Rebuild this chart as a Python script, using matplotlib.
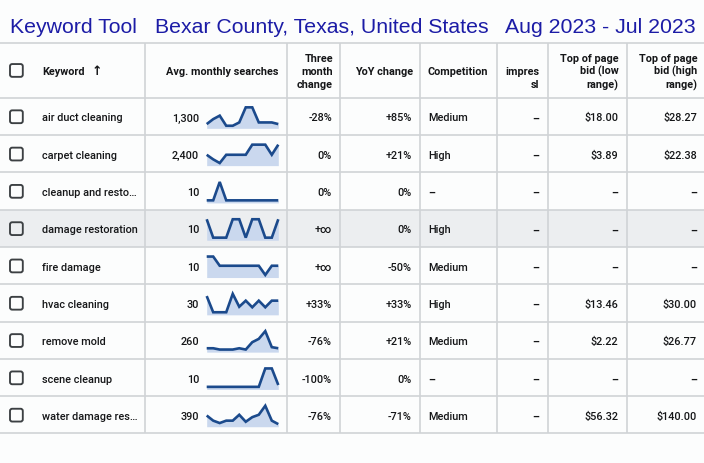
import matplotlib
matplotlib.use("Agg")
import matplotlib.pyplot as plt
from matplotlib.patches import FancyBboxPatch, Rectangle

# ---------------- data ----------------
title_parts = ["Keyword Tool", "Bexar County, Texas, United States", "Aug 2023 - Jul 2023"]
headers = ["Keyword", "Avg. monthly searches", "Three\nmonth\nchange", "YoY change",
           "Competition", "impres\nsl", "Top of page\nbid (low\nrange)", "Top of page\nbid (high\nrange)"]
keywords = ["air duct cleaning", "carpet cleaning", "cleanup and resto\u2026", "damage restoration",
            "fire damage", "hvac cleaning", "remove mold", "scene cleanup", "water damage res\u2026"]
avg_searches = ["1,300", "2,400", "10", "10", "10", "30", "260", "10", "390"]
three_month = ["-28%", "0%", "0%", "+\u221e", "+\u221e", "+33%", "-76%", "-100%", "-76%"]
yoy_change = ["+85%", "+21%", "0%", "0%", "-50%", "+33%", "+21%", "0%", "-71%"]
competition = ["Medium", "High", "\u2013", "High", "Medium", "High", "Medium", "\u2013", "Medium"]
impr_share = ["\u2013"] * 9
bid_low = ["$18.00", "$3.89", "\u2013", "\u2013", "\u2013", "$13.46", "$2.22", "\u2013", "$56.32"]
bid_high = ["$28.27", "$22.38", "\u2013", "\u2013", "\u2013", "$30.00", "$26.77", "\u2013", "$140.00"]

# monthly trend (relative, 12 months)
trend_air_duct = [0.09, 0.36, 0.55, 0.0, 0.0, 0.18, 1.0, 1.0, 0.18, 0.18, 0.18, 0.09]
trend_carpet = [0.45, 0.2, 0.0, 0.45, 0.45, 0.45, 0.45, 1.0, 1.0, 1.0, 0.45, 1.0]
trend_cleanup = [0.0, 0.0, 1.0, 0.0, 0.0, 0.0, 0.0, 0.0, 0.0, 0.0, 0.0, 0.0]
trend_damage = [1.0, 0.0, 0.0, 0.0, 1.0, 1.0, 0.0, 1.0, 1.0, 0.0, 0.0, 1.0]
trend_fire = [1.0, 1.0, 0.5, 0.5, 0.5, 0.5, 0.5, 0.5, 0.5, 0.0, 0.5, 0.5]
trend_hvac = [0.88, 0.0, 0.0, 0.0, 1.0, 0.3, 0.63, 0.27, 0.63, 0.27, 0.63, 0.63]
trend_mold = [0.07, 0.07, 0.0, 0.0, 0.0, 0.07, 0.0, 0.4, 0.58, 1.0, 0.13, 0.07]
trend_scene = [0.0, 0.0, 0.0, 0.0, 0.0, 0.0, 0.0, 0.0, 0.0, 1.0, 1.0, 0.1]
trend_water = [0.47, 0.19, 0.06, 0.19, 0.19, 0.51, 0.13, 0.38, 0.51, 1.0, 0.19, 0.0]
trends = [trend_air_duct, trend_carpet, trend_cleanup, trend_damage, trend_fire,
          trend_hvac, trend_mold, trend_scene, trend_water]

# ---------------- layout ----------------
W, H = 704, 464
BG = "#fcfdfd"
TXT = "#151618"
GRID = "#d0d3d6"
TITLE_C = "#1c1ca6"
FONT = ["Roboto", "DejaVu Sans"]

fig = plt.figure(figsize=(W / 100, H / 100), dpi=100, facecolor=BG)
ax = fig.add_axes([0, 0, 1, 1])
ax.set_xlim(0, W)
ax.set_ylim(H, 0)
ax.axis("off")
ax.set_facecolor(BG)

# title
title_x = [10, 155, 505]
for tx, t in zip(title_x, title_parts):
    ax.text(tx, 33.3, t, fontsize=15.3, color=TITLE_C, family=["Liberation Sans", "DejaVu Sans"],
            va="baseline", ha="left")

top = 44.0
hdr_bot = 98.7
row_h = 37.3
n = len(keywords)
bottom = hdr_bot + row_h * n
vcols = [145, 287, 340, 420, 497, 548, 627]

# highlighted row
ax.add_patch(Rectangle((0, hdr_bot + row_h * 3), W, row_h, facecolor="#eceef0", edgecolor="none", zorder=0))

# grid
ys = [top, hdr_bot] + [hdr_bot + row_h * (i + 1) for i in range(n)]
ax.hlines(ys, 0, W, color=GRID, lw=1.2, zorder=1)
ax.vlines(vcols, top, bottom, color=GRID, lw=1.2, zorder=1)

def checkbox(cy):
    ax.add_patch(FancyBboxPatch((10.0, cy - 6.3), 12.8, 12.8,
                                boxstyle="round,pad=0,rounding_size=2.2",
                                facecolor="none", edgecolor="#3c4043", lw=1.35, zorder=3))

# header
hc = (top + hdr_bot) / 2
checkbox(hc)
bold = dict(fontsize=7.8, fontweight="bold", color=TXT, family=FONT, va="baseline")
ax.text(42, hc + 3.7, "Keyword", ha="left", **bold)
ax.text(92, hc + 3.9, "\u2191", ha="left", fontsize=9, fontweight="bold", color=TXT,
        family=["DejaVu Sans"], va="baseline")
hdr_right = [None, 278.5, 333, 412.7, None, 539, 618.7, 697.3]
line_base = [hc - 9.65, hc + 3.65, hc + 17.0]
for j, h in enumerate(headers[1:], start=1):
    lines = h.split("\n")
    if len(lines) == 1:
        bases = [line_base[1]]
    elif len(lines) == 2:
        bases = line_base[1:]
    else:
        bases = line_base
    for ln, b in zip(lines, bases):
        if j == 4:
            ax.text(428, b, ln, ha="left", **bold)
        else:
            ax.text(hdr_right[j], b, ln, ha="right", **bold)

# body
reg = dict(fontsize=7.8, color=TXT, family=FONT, va="baseline")
DASH = "\u2013"
for i in range(n):
    c = hdr_bot + row_h * (i + 0.5)
    b = c + 4.1
    checkbox(c + 0.3)
    ax.text(42, b, keywords[i], ha="left", fontweight="medium", **reg)
    ax.text(199, b, avg_searches[i], ha="right", fontweight="medium", **reg)
    ax.text(332, b, three_month[i], ha="right", fontweight="medium", **reg)
    ax.text(412, b, yoy_change[i], ha="right", fontweight="medium", **reg)
    ax.text(428, b, competition[i], ha="left",
            fontweight="bold" if competition[i] == DASH else "medium", **reg)
    ax.text(539, b, impr_share[i], ha="right", fontweight="bold", **reg)
    ax.text(618.5, b, bid_low[i], ha="right",
            fontweight="bold" if bid_low[i] == DASH else "medium", **reg)
    ax.text(697, b, bid_high[i], ha="right",
            fontweight="bold" if bid_high[i] == DASH else "medium", **reg)

    # sparkline
    x0, x1 = 206.7, 278.3
    yt, yb = c - 9.0, c + 9.4
    sax = fig.add_axes([x0 / W, 1 - yb / H, (x1 - x0) / W, (yb - yt) / H])
    sax.set_xlim(0, 11)
    sax.set_ylim(0, 1)
    sax.axis("off")
    xs = list(range(12))
    sax.fill_between(xs, trends[i], -0.14, color="#cad8ee", lw=0, clip_on=False, zorder=1)
    sax.plot(xs, trends[i], color="#1b4a8c", lw=1.9, clip_on=False, zorder=2,
             solid_joinstyle="miter", solid_capstyle="butt")

fig.savefig("out.png", dpi=100, facecolor=BG)
